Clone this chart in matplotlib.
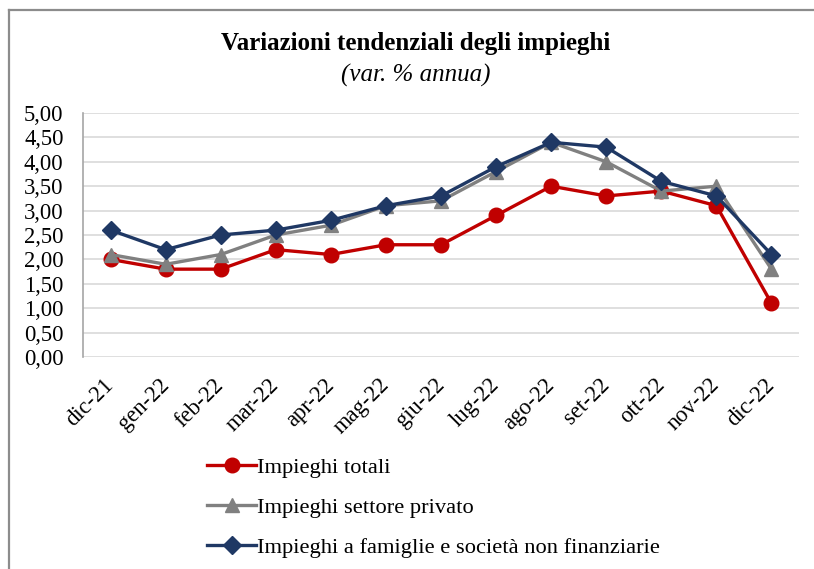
import matplotlib
matplotlib.use("Agg")
import matplotlib.pyplot as plt
from matplotlib.lines import Line2D
from matplotlib.ticker import FuncFormatter

months = ["dic-21", "gen-22", "feb-22", "mar-22", "apr-22", "mag-22", "giu-22",
          "lug-22", "ago-22", "set-22", "ott-22", "nov-22", "dic-22"]
impieghi_totali = [2.0, 1.8, 1.8, 2.2, 2.1, 2.3, 2.3, 2.9, 3.5, 3.3, 3.4, 3.1, 1.1]
impieghi_privato = [2.1, 1.9, 2.1, 2.5, 2.7, 3.1, 3.2, 3.8, 4.4, 4.0, 3.4, 3.5, 1.8]
impieghi_famiglie = [2.6, 2.2, 2.5, 2.6, 2.8, 3.1, 3.3, 3.9, 4.4, 4.3, 3.6, 3.3, 2.1]
y_ticks = [0, 0.5, 1.0, 1.5, 2.0, 2.5, 3.0, 3.5, 4.0, 4.5, 5.0]

plt.rcParams["font.family"] = ["Liberation Serif", "DejaVu Serif"]

fig = plt.figure(figsize=(8.14, 5.69), dpi=100)
ax = fig.add_axes([0.102, 0.3726, 0.8796, 0.4288])

x = range(len(months))
ax.plot(x, impieghi_totali, color="#C00000", lw=2.4, marker="o", ms=10.5,
        label="Impieghi totali")
ax.plot(x, impieghi_privato, color="#808080", lw=2.4, marker="^", ms=10.5,
        label="Impieghi settore privato")
ax.plot(x, impieghi_famiglie, color="#1F3864", lw=2.4, marker="D", ms=9,
        label="Impieghi a famiglie e società non finanziarie")

ax.set_xlim(-0.5, len(months) - 0.5)
ax.set_ylim(0, 5)
ax.set_yticks(y_ticks)
ax.yaxis.set_major_formatter(FuncFormatter(lambda v, p: f"{v:.2f}".replace(".", ",")))
ax.set_xticks(list(x))
ax.set_xticklabels(months, rotation=45, ha="right", va="center", rotation_mode="anchor")
ax.tick_params(axis="both", length=0, labelsize=16.3)
ax.tick_params(axis="y", pad=14)
ax.tick_params(axis="x", pad=18)

ax.grid(axis="y", color="#D9D9D9", lw=1.2)
ax.set_axisbelow(True)
for s in ["top", "right", "bottom"]:
    ax.spines[s].set_visible(False)
ax.spines["left"].set_color("#A6A6A6")
ax.spines["left"].set_linewidth(1.2)

fig.text(0.511, 0.923, "Variazioni tendenziali degli impieghi", ha="center", va="center",
         fontsize=18, fontweight="bold")
fig.text(0.511, 0.868, "(var. % annua)", ha="center", va="center",
         fontsize=18, style="italic")

fig.legend(loc="upper left", bbox_to_anchor=(0.254, 0.197), frameon=False,
           fontsize=16.2, handlelength=2.2, handletextpad=0.05, labelspacing=0.86,
           borderpad=0, borderaxespad=0)

# outer chart border (only top and left visible in the crop)
fig.add_artist(Line2D([0.011, 0.011], [0.0, 0.9824], transform=fig.transFigure,
                      color="#8C8C8C", lw=1.6))
fig.add_artist(Line2D([0.011, 1.0], [0.9824, 0.9824], transform=fig.transFigure,
                      color="#8C8C8C", lw=1.6))

fig.savefig("out.png", dpi=100)
